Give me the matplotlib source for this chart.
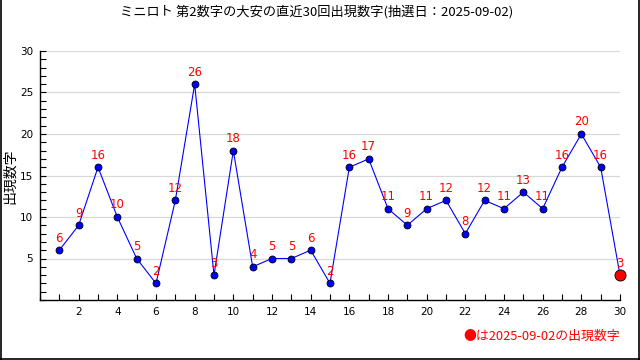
import matplotlib
matplotlib.use("Agg")
import matplotlib.pyplot as plt
from matplotlib.ticker import MultipleLocator

plt.rcParams['font.family'] = ['Noto Sans CJK JP', 'DejaVu Sans']

# last 30 draws, 2nd number
draws = list(range(1, 31))
values = [6, 9, 16, 10, 5, 2, 12, 26, 3, 18, 4, 5, 5, 6, 2,
          16, 17, 11, 9, 11, 12, 8, 12, 11, 13, 11, 16, 20, 16, 3]
xticks = list(range(2, 31, 2))
yticks = [5, 10, 15, 20, 25, 30]
title = "ミニロト 第2数字の大安の直近30回出現数字(抽選日：2025-09-02)"
ylabel = "出現数字"
note = "●は2025-09-02の出現数字"

fig = plt.figure(figsize=(6.4, 3.6), dpi=100)
ax = fig.add_axes([40/640, 60/360, 580/640, 249/360])

ax.plot(draws, values, color='blue', lw=0.8, zorder=2)
ax.plot(draws[:-1], values[:-1], 'o', color='blue', mec='black', mew=0.6,
        ms=5, zorder=3)
ax.plot(draws[-1:], values[-1:], 'o', color='red', mec='black', mew=0.6,
        ms=8, zorder=4, clip_on=False)

for x, v in zip(draws, values):
    ax.annotate(str(v), (x, v), xytext=(0, 4), textcoords='offset points',
                ha='center', va='bottom', color='red', fontsize=8.5,
                family=['DejaVu Sans'], zorder=5, annotation_clip=False)

ax.set_xlim(0, 30)
ax.set_ylim(0, 30)
ax.set_xticks(xticks)
ax.xaxis.set_minor_locator(MultipleLocator(1))
ax.set_yticks(yticks)
ax.yaxis.set_minor_locator(MultipleLocator(1))
ax.tick_params(which='both', direction='in', length=4, width=0.8,
               labelsize=7.5, pad=5)
for lab in ax.get_xticklabels() + ax.get_yticklabels():
    lab.set_family(['DejaVu Sans'])
ax.yaxis.grid(True, color='#d8d8d8', lw=0.9)
ax.set_axisbelow(True)
for s in ['top', 'right']:
    ax.spines[s].set_visible(False)
for s in ['left', 'bottom']:
    ax.spines[s].set_linewidth(1.0)

fig.text(10/640, 1 - 176/360, ylabel, rotation=90, ha='center', va='center',
         fontsize=10)
fig.text(317/640, 1 - 12/360, title, ha='center', va='center', fontsize=9.5)
fig.text(620/640, 1 - 336/360, note, ha='right', va='center', fontsize=9.3,
         color='red')

# outer frame (left, right, bottom)
for xs, ys in [([0.001, 0.001], [0, 1]), ([0.998, 0.998], [0, 1]),
               ([0, 1], [0.002, 0.002])]:
    fig.add_artist(plt.Line2D(xs, ys, color='black', lw=1.2,
                              transform=fig.transFigure))

fig.savefig('out.png', dpi=100)
